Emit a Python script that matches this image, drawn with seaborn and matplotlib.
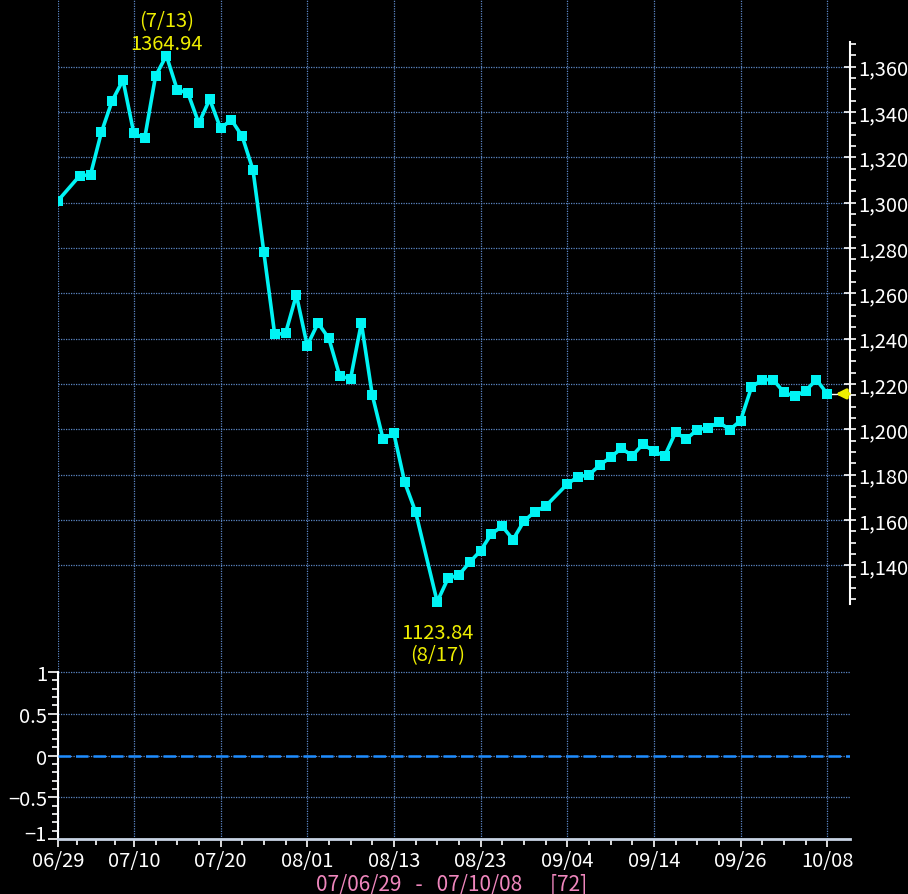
import numpy as np
import pandas as pd
import matplotlib
matplotlib.use("Agg")
import matplotlib.pyplot as plt
import matplotlib.transforms as mtrans
import seaborn as sns
from matplotlib.ticker import FixedLocator, FuncFormatter

# 72 weekdays, 07/06/29 - 07/10/08
dates = pd.bdate_range("2007-06-29", "2007-10-08")
close = [1300.9, np.nan, 1311.9, 1312.3, 1331.0, 1345.0, 1354.1, 1330.6, 1328.4, 1355.8,
         1364.94, 1349.9, 1348.3, 1335.0, 1345.7, 1332.8, 1336.6, 1329.3, 1314.4, 1278.1,
         1241.9, 1242.3, 1259.3, 1236.9, 1246.9, 1240.1, 1223.6, 1222.2, 1246.9, 1215.3,
         1195.7, 1198.2, 1176.6, 1163.6, np.nan, 1123.84, 1134.2, 1135.7, 1141.3, 1146.4,
         1153.8, 1157.2, 1151.3, 1159.4, 1163.6, 1166.0, np.nan, 1175.8, 1179.1, 1179.8,
         1184.2, 1187.6, 1191.6, 1188.3, 1193.5, 1190.2, 1188.3, 1198.6, 1195.7, 1199.8,
         1200.6, 1203.1, 1199.8, 1203.8, 1218.5, 1221.9, 1221.9, 1216.3, 1214.5, 1217.0,
         1221.9, 1215.6]
tick_labels = ["06/29", "07/10", "07/20", "08/01", "08/13", "08/23", "09/04", "09/14", "09/26", "10/08"]
price_ticks = list(range(1140, 1361, 20))
sub_ticks = [-1, -0.5, 0, 0.5, 1]

df = pd.DataFrame({"date": dates, "close": close})
df["idx"] = np.arange(len(df))
pts = df.dropna()

sns.set_style("dark")
plt.rcParams["font.family"] = ["Noto Sans CJK JP", "DejaVu Sans"]

BG = "black"
GRID = "#5b86c4"
CYAN = "#00f4f4"
YEL = "#eeee00"
FS = 14.5

fig = plt.figure(figsize=(9.08, 8.95), dpi=100, facecolor=BG)
ax = fig.add_axes([58 / 908, 1 - 660 / 895, (850 - 58) / 908, 660 / 895])
ax2 = fig.add_axes([58 / 908, 1 - 840 / 895, (850 - 58) / 908, 180 / 895], sharex=ax)

ax.set_facecolor(BG)
ax2.patch.set_visible(False)  # so the low label under the main panel is not hidden
for a in (ax, ax2):
    for s in a.spines.values():
        s.set_visible(False)

labels_all = list(dates.strftime("%m/%d"))
major_pos = [labels_all.index(t) for t in tick_labels]
minor_pos = []
for a_, b_ in zip(major_pos[:-1], major_pos[1:]):
    minor_pos += list(np.linspace(a_, b_, 5)[1:-1])

# main price panel
sns.lineplot(data=pts, x="idx", y="close", ax=ax, color=CYAN, lw=2.6,
             marker="s", markersize=7, markeredgewidth=0, zorder=5)
ax.set_xlim(0, 73.1)
ax.set_ylim(1098.6, 1389.9)
ax.set_xlabel("")
ax.set_ylabel("")
ax.yaxis.tick_right()
ax.yaxis.set_major_locator(FixedLocator(price_ticks))
ax.yaxis.set_minor_locator(FixedLocator([v for v in range(1125, 1371, 5) if v % 20]))
ax.yaxis.set_major_formatter(FuncFormatter(lambda v, p: f"{v:,.0f}"))
ax.spines["right"].set_visible(True)
ax.spines["right"].set_color("white")
ax.spines["right"].set_linewidth(1.5)
ax.spines["right"].set_bounds(1123, 1371)
ax.tick_params(axis="y", which="major", right=True, direction="inout", length=8, width=1.2,
               colors="white", labelsize=FS, pad=2)
ax.tick_params(axis="y", which="minor", right=True, direction="out", length=4, width=1.2,
               colors="white")
ax.tick_params(axis="x", which="both", bottom=False, labelbottom=False)
ax.xaxis.set_major_locator(FixedLocator(major_pos))
ax.grid(True, which="major", color=GRID, lw=0.9, ls=(0, (1, 1)))

# high / low labels
hi = pts.loc[pts["close"].idxmax()]
lo = pts.loc[pts["close"].idxmin()]
ax.annotate(f"{hi.close:.2f}", (hi.idx, hi.close), xytext=(0, 9), textcoords="offset points",
            ha="center", va="center", color=YEL, fontsize=FS)
ax.annotate(f"({hi.date.month}/{hi.date.day})", (hi.idx, hi.close), xytext=(0, 25),
            textcoords="offset points", ha="center", va="center", color=YEL, fontsize=FS)
ax.annotate(f"{lo.close:.2f}", (lo.idx, lo.close), xytext=(0, -22), textcoords="offset points",
            ha="center", va="center", color=YEL, fontsize=FS)
ax.annotate(f"({lo.date.month}/{lo.date.day})", (lo.idx, lo.close), xytext=(0, -38),
            textcoords="offset points", ha="center", va="center", color=YEL, fontsize=FS)

# last value marker
last = pts.iloc[-1]
ax.plot([last.idx, last.idx + 0.9], [last.close, last.close], color="white", lw=1, zorder=4)
ax.annotate("", xy=(last.idx + 0.75, last.close), xytext=(last.idx + 2.0, last.close),
            arrowprops=dict(arrowstyle="-|>", color=YEL, lw=2.5, mutation_scale=14,
                            shrinkA=0, shrinkB=0))

# lower (empty) indicator panel
ax2.axhline(0, color="#1e8cff", lw=1.8, ls=(0, (5, 2)), zorder=3)
ax2.set_ylim(-1, 1.156)
ax2.yaxis.set_major_locator(FixedLocator(sub_ticks))
ax2.yaxis.set_minor_locator(FixedLocator(np.round(np.arange(-0.9, 1.0, 0.1), 1)))
ax2.yaxis.set_major_formatter(FuncFormatter(lambda v, p: f"{v:g}".replace("-", "\u2212")))
ax2.spines["left"].set_visible(True)
ax2.spines["left"].set_color("white")
ax2.spines["left"].set_linewidth(1.5)
ax2.spines["left"].set_bounds(-1, 1)
ax2.spines["bottom"].set_visible(True)
ax2.spines["bottom"].set_color("#c8d4e4")
ax2.spines["bottom"].set_linewidth(2)
ax2.tick_params(axis="y", which="major", left=True, direction="out", length=7, width=1.2,
                colors="white", labelsize=FS, pad=1)
ax2.tick_params(axis="y", which="minor", left=True, direction="out", length=4, width=1.2,
                colors="white")
ax2.xaxis.set_major_locator(FixedLocator(major_pos))
ax2.xaxis.set_minor_locator(FixedLocator(minor_pos))
ax2.set_xticklabels(tick_labels)
ax2.tick_params(axis="x", which="major", bottom=True, direction="out", length=6, width=1.2,
                colors="white", labelsize=FS, pad=2)
ax2.tick_params(axis="x", which="minor", bottom=True, direction="out", length=4, width=1.2,
                colors="white")
ax2.grid(True, which="major", color=GRID, lw=0.9, ls=(0, (1, 1)))
ax2.set_xlabel("")
ax2.set_ylabel("")

# nudge the "-1" label up a little so it clears the first date label
lab = ax2.yaxis.get_major_ticks()[0].label1
lab.set_transform(lab.get_transform() + mtrans.ScaledTranslation(0, 5 / 72, fig.dpi_scale_trans))

fig.text(452 / 908, 1 - 884 / 895,
         f"{dates[0]:%y/%m/%d}   -   {dates[-1]:%y/%m/%d}      [{len(dates)}]",
         ha="center", va="center", color="#ee86bc", fontsize=15)

fig.savefig("out.png", dpi=100, facecolor=BG)
